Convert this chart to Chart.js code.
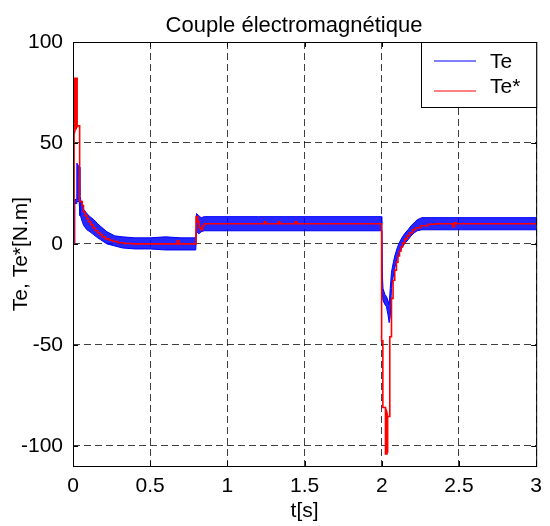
<!DOCTYPE html>
<html>
<head>
<meta charset="utf-8">
<title>Couple électromagnétique</title>
<script src="https://cdn.jsdelivr.net/npm/chart.js@4.4.1/dist/chart.umd.min.js"></script>
<style>
  html, body { margin: 0; padding: 0; background: #fff; }
  #wrap { width: 550px; height: 526px; }
</style>
</head>
<body>
<div id="wrap"><canvas id="torqueChart" width="550" height="526"></canvas></div>
<script>
// axis ticks
const xTicks = [0, 0.5, 1, 1.5, 2, 2.5, 3];
const yTicks = [-100, -50, 0, 50, 100];

const seriesNames = ['Te', 'Te*'];

// Te* : torque reference, held between samples
const refTime = [
  0, 0.007, 0.009, 0.011, 0.013, 0.015, 0.017, 0.019, 0.021, 0.023,
  0.025, 0.027, 0.029, 0.043, 0.06, 0.068, 0.078, 0.09, 0.1, 0.115,
  0.13, 0.145, 0.16, 0.175, 0.19, 0.21, 0.235, 0.26, 0.29, 0.33,
  0.38, 0.675, 0.685, 0.797, 0.808, 0.818, 0.828, 0.838, 0.85, 1.24,
  1.25, 1.33, 1.34, 1.44, 1.45, 1.999, 2.007, 2.024, 2.026, 2.028,
  2.030, 2.032, 2.034, 2.036, 2.038, 2.052, 2.063, 2.073, 2.084, 2.095,
  2.105, 2.115, 2.125, 2.135, 2.15, 2.165, 2.18, 2.2, 2.22, 2.25,
  2.3, 2.35, 2.46, 2.47, 2.48, 3
];
const refTorque = [
  0, 55, 82, 56, 82, 57, 82, 57, 82, 58,
  82, 58, 58.5, 21, 19, 16, 14, 12.5, 11, 9.5,
  8, 6.5, 5.5, 4.5, 3.5, 2.5, 1.8, 1.2, 0.6, 0.2,
  0, 1.5, 0, 13.5, 11, 8, 7, 9, 10, 11,
  10, 11, 10, 11, 10, -48, -81, -104, -82, -104,
  -83, -104, -84, -103, -85.5, -46, -27, -18, -13, -9,
  -6, -3.5, -1.5, 0.5, 2.5, 4, 5.5, 7, 8, 9,
  9.7, 10, 8.5, 10.5, 10, 10
];

// Te : measured torque, ripple band (upper / lower envelope)
const teTime = [
  0, 0.0105, 0.011, 0.024, 0.025, 0.04, 0.045, 0.05, 0.06, 0.07,
  0.09, 0.11, 0.135, 0.16, 0.18, 0.22, 0.27, 0.32, 0.4, 0.5,
  0.6, 0.7, 0.795, 0.8, 0.815, 0.83, 0.85, 1.2, 1.6, 1.998,
  2.0, 2.003, 2.008, 2.02, 2.03, 2.04, 2.048, 2.055, 2.063, 2.07,
  2.084, 2.1, 2.116, 2.13, 2.147, 2.17, 2.19, 2.21, 2.23, 2.26,
  3
];
const teHigh = [
  0, 0, 22, 22, 40, 38, 24, 22, 19, 17,
  15, 13.5, 12, 10, 8.6, 6, 4, 3.5, 3, 3,
  3.5, 3, 3, 15, 14, 13, 13.5, 13.5, 13.5, 13.5,
  10, -14, -22, -25, -26, -28, -30, -22, -14, -11,
  -6, -2, 1, 3, 5, 7, 9, 10.5, 12, 13,
  13
];
const teLow = [
  0, 0, 20, 20, 21, 21, 14, 13.5, 11, 9,
  7, 6, 4.5, 3, 2, 0, -1, -2, -2.5, -2.5,
  -3, -3, -3, 6, 5, 6, 6.5, 6.5, 6.5, 6.5,
  -15, -24, -28, -30, -31, -35, -39, -36, -22, -18,
  -12, -7, -4, -2, 0, 2, 4, 5.5, 6.5, 7,
  7
];

const toPoints = (xs, ys) => xs.map((x, i) => ({ x: x, y: ys[i] }));

const FONT = '"Liberation Sans", Arial, sans-serif';
Chart.defaults.font.family = FONT;
Chart.defaults.font.size = 21;
Chart.defaults.color = '#000';

// box, inner tick marks, title and legend in the MATLAB style
const matlabFrame = {
  id: 'matlabFrame',
  afterDraw(chart) {
    const { ctx, chartArea: a, scales: { x, y } } = chart;
    ctx.save();
    ctx.strokeStyle = '#000';
    ctx.lineWidth = 1;
    ctx.setLineDash([]);
    ctx.strokeRect(a.left + 0.5, a.top + 0.5, a.right - a.left, a.bottom - a.top);

    ctx.beginPath();
    xTicks.forEach(v => {
      const px = Math.round(x.getPixelForValue(v)) + 0.5;
      ctx.moveTo(px, a.bottom); ctx.lineTo(px, a.bottom - 5);
      ctx.moveTo(px, a.top); ctx.lineTo(px, a.top + 5);
    });
    yTicks.forEach(v => {
      const py = Math.round(y.getPixelForValue(v)) + 0.5;
      ctx.moveTo(a.left, py); ctx.lineTo(a.left + 5, py);
      ctx.moveTo(a.right, py); ctx.lineTo(a.right - 5, py);
    });
    ctx.stroke();

    ctx.fillStyle = '#000';
    ctx.font = '22px ' + FONT;
    ctx.textAlign = 'center';
    ctx.textBaseline = 'alphabetic';
    ctx.fillText('Couple électromagnétique', 294, 32);

    // legend
    ctx.font = '21px ' + FONT;
    const lx = 421.5, ly = a.top + 0.5;
    ctx.fillStyle = '#fff';
    ctx.fillRect(lx, ly, a.right + 0.5 - lx, 65);
    ctx.strokeStyle = '#000';
    ctx.strokeRect(lx, ly, a.right + 0.5 - lx, 65);
    const colors = ['#0000ff', '#ff0000'];
    ctx.textAlign = 'left';
    seriesNames.forEach((name, i) => {
      const yy = 61 + i * 30;
      ctx.strokeStyle = colors[i];
      ctx.beginPath();
      ctx.moveTo(434, yy);
      ctx.lineTo(476, yy);
      ctx.stroke();
      ctx.fillStyle = '#000';
      ctx.fillText(name, 490, i === 0 ? 68 : 93);
    });
    ctx.restore();
  }
};

const ctx = document.getElementById('torqueChart').getContext('2d');
const torqueChart = new Chart(ctx, {
  type: 'line',
  data: {
    datasets: [
      {
        label: seriesNames[1],
        data: toPoints(refTime, refTorque),
        borderColor: '#ff0000',
        borderWidth: 1.6,
        stepped: true,
        pointRadius: 0,
        fill: false,
        order: -1
      },
      {
        label: seriesNames[0] + ' max',
        data: toPoints(teTime, teHigh),
        borderColor: '#0000ff',
        borderWidth: 1,
        pointRadius: 0,
        fill: false,
        order: 1
      },
      {
        label: seriesNames[0] + ' min',
        data: toPoints(teTime, teLow),
        borderColor: '#0000ff',
        backgroundColor: 'rgba(0,0,255,0.85)',
        borderWidth: 1,
        pointRadius: 0,
        fill: '-1',
        order: 2
      }
    ]
  },
  options: {
    responsive: false,
    animation: false,
    layout: { padding: { top: 42, right: 7, left: 0, bottom: 0 } },
    plugins: {
      legend: { display: false },
      tooltip: { enabled: false },
      title: { display: false },
      filler: { drawTime: 'beforeDatasetsDraw' }
    },
    scales: {
      x: {
        type: 'linear',
        min: 0,
        max: 3,
        afterBuildTicks: s => { s.ticks = xTicks.map(v => ({ value: v })); },
        afterFit: s => { s.height = 60; },
        ticks: { padding: 8, maxRotation: 0, autoSkip: false, callback: v => String(v) },
        grid: { color: 'rgba(0,0,0,0.75)', drawTicks: false },
        border: { display: false, dash: [7, 4] },
        title: { display: true, text: 't[s]', padding: { top: 0, bottom: 2 } }
      },
      y: {
        type: 'linear',
        min: -110,
        max: 100,
        afterBuildTicks: s => { s.ticks = yTicks.map(v => ({ value: v })); },
        afterFit: s => { s.width = 73; },
        ticks: { padding: 10, autoSkip: false, callback: v => String(v) },
        grid: { color: 'rgba(0,0,0,0.75)', drawTicks: false },
        border: { display: false, dash: [7, 4] },
        title: { display: true, text: 'Te, Te*[N.m]', padding: { top: 9, bottom: 0 } }
      }
    }
  },
  plugins: [matlabFrame]
});
</script>
</body>
</html>
